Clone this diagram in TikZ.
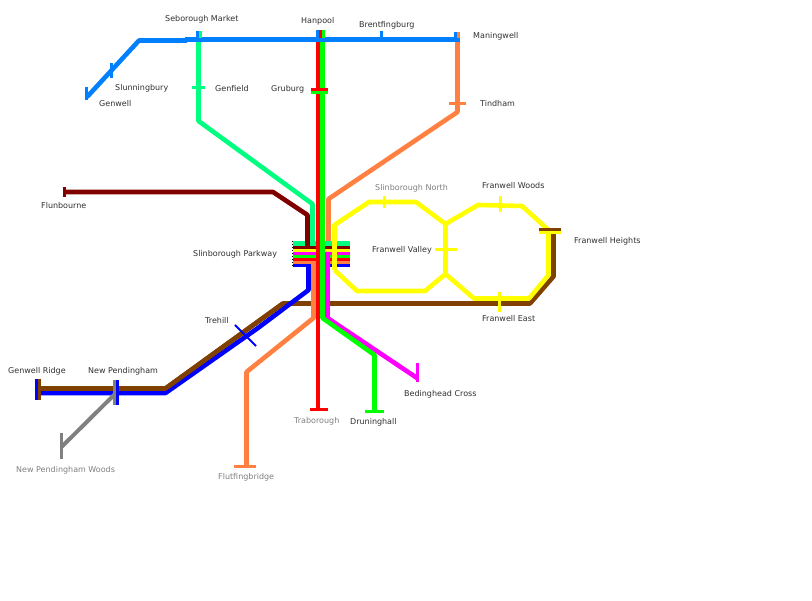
\documentclass[tikz,border=0pt]{standalone}
\usepackage{fontspec}
\setmainfont{DejaVu Sans}
\definecolor{cspring}{HTML}{00FF80}
\definecolor{cmaroon}{HTML}{800000}
\definecolor{cyell}{HTML}{FFFF00}
\definecolor{cmag}{HTML}{FF00FF}
\definecolor{cgreen}{HTML}{00FF00}
\definecolor{cred}{HTML}{FF0000}
\definecolor{corange}{HTML}{FF8040}
\definecolor{cblue}{HTML}{0000FF}
\definecolor{cbrown}{HTML}{804000}
\definecolor{csky}{HTML}{0080FF}
\definecolor{cgray}{HTML}{808080}
\definecolor{ctxt}{HTML}{303030}
\tikzset{
  route/.style={line width=4.6pt,line join=round},
  tick/.style={line width=3pt},
  lab/.style={font=\fontsize{8}{9}\selectfont,text=ctxt,inner sep=0pt},
  glab/.style={lab,text=cgray}
}
\begin{document}
\begin{tikzpicture}[x=1pt,y=-1pt]
\useasboundingbox (0,0) rectangle (812,601);
\fill[white] (0,0) rectangle (812,601);
% routes under the interchange block
\draw[route,cbrown] (553.5,231) -- (553.5,276.5) -- (530,303.5) -- (283,303.5) -- (165.5,388.5) -- (38,388.5);
\draw[route,corange] (457.5,37) -- (457.5,112) -- (328.5,199) -- (328.5,241);
% interchange block
\draw[black,line width=0.8pt,dash pattern=on 1pt off 2pt] (292.2,241) -- (292.2,267);
\draw[black,line width=0.8pt,dash pattern=on 1pt off 2pt] (349.8,241) -- (349.8,267);
\fill[cspring] (292.5,241) rectangle (349.5,246);
\fill[cmaroon] (292.5,246) rectangle (349.5,248.7);
\fill[cyell] (292.5,248.7) rectangle (349.5,251.7);
\fill[cmag] (292.5,251.7) rectangle (349.5,255);
\fill[cgreen] (292.5,255) rectangle (349.5,258);
\fill[cred] (292.5,258) rectangle (349.5,261);
\fill[corange] (292.5,261) rectangle (349.5,263.7);
\fill[cblue] (292.5,263.7) rectangle (349.5,266.7);
% routes
\draw[route,cspring] (198.5,37) -- (198.5,121) -- (312.5,204) -- (312.5,246);
\draw[route,cmaroon] (64,192) -- (273,192) -- (307.5,215) -- (307.5,248);
\draw[route,corange] (313.5,262) -- (313.5,318) -- (246.5,372) -- (246.5,467);
\draw[route,cyell] (334.5,270) -- (334.5,225) -- (369,202) -- (416,202) -- (445.5,224) -- (478,205) -- (522,206) -- (548.5,230) -- (548.5,275) -- (529,298.5) -- (474,298.5) -- (445.5,274) -- (445.5,224);
\draw[route,cyell] (445.5,274) -- (425,291) -- (357,291) -- (334.5,270);
\draw[route,cblue] (38,393) -- (165.5,393) -- (258,328) -- (308.5,290) -- (308.5,265);
\draw[route,cbrown] (283,303.5) -- (165.5,388.5) -- (38,388.5);
\draw[route,cmag] (327.5,252) -- (327.5,318) -- (417,378);
\draw[route,cgreen] (322.5,38) -- (322.5,318) -- (374.5,355) -- (374.5,411);
\draw[route,cred,line width=4pt] (318,38) -- (318,410);
\draw[route,cgray,line width=4pt] (61.5,447) -- (115,394);
\draw[route,csky] (87,97) -- (139,40.5) -- (187,40.5);
\draw[route,csky] (185,39.5) -- (460,39.5);
% ticks
\draw[tick,csky] (197.5,31) -- (197.5,38);
\draw[tick,cspring] (200.5,31) -- (200.5,38);
\draw[tick,csky] (317.5,30) -- (317.5,38);
\draw[tick,cred] (320.5,30) -- (320.5,38);
\draw[tick,cgreen] (323.5,30) -- (323.5,38);
\draw[tick,csky] (381.5,31) -- (381.5,38);
\draw[tick,csky] (455.5,32) -- (455.5,38);
\draw[tick,corange] (458.5,32) -- (458.5,38);
\draw[tick,csky] (86.5,87) -- (86.5,100);
\draw[tick,csky] (111.5,63) -- (111.5,78);
\draw[tick,cspring] (192,87.5) -- (205,87.5);
\draw[tick,cred] (311,89.5) -- (328,89.5);
\draw[tick,cgreen] (311,92.5) -- (328,92.5);
\draw[tick,corange] (449,103.5) -- (466,103.5);
\draw[tick,cmaroon] (64,187) -- (64,197);
\draw[tick,cyell] (384.5,196) -- (384.5,208);
\draw[tick,cyell] (500.5,196) -- (500.5,212);
\draw[tick,cyell] (435,249.5) -- (457,249.5);
\draw[tick,cbrown] (539,229.5) -- (561,229.5);
\draw[tick,cyell] (539,232.5) -- (561,232.5);
\draw[tick,cyell] (499.5,292) -- (499.5,312);
\draw[tick,cblue] (36.5,379) -- (36.5,400);
\draw[tick,cbrown] (39.5,379) -- (39.5,400);
\draw[tick,cgray] (114.5,380) -- (114.5,405);
\draw[tick,cblue] (117.5,380) -- (117.5,405);
\draw[tick,cgray] (61.5,433) -- (61.5,459);
\draw[tick,cblue,line width=2pt] (235,325) -- (256,346);
\draw[tick,corange] (234,466.5) -- (256,466.5);
\draw[tick,cred] (310,409.5) -- (328,409.5);
\draw[tick,cgreen] (365,411.5) -- (384,411.5);
\draw[tick,cmag] (417.5,363) -- (417.5,382);
% labels
\node[lab,anchor=west] (seb) at (165,19) {Seborough Market};
\node[lab,anchor=west] (han) at (301,21) {Hanpool};
\node[lab,anchor=west] (bre) at (359,25) {Brentfingburg};
\node[lab,anchor=west] (man) at (473,36.5) {Maningwell};
\node[lab,anchor=west] (slu) at (115,88) {Slunningbury};
\node[lab,anchor=west] (gen) at (99,103.5) {Genwell};
\node[lab,anchor=west] (gef) at (215,88.5) {Genfield};
\node[lab,anchor=west] (gru) at (271,89.5) {Gruburg};
\node[lab,anchor=west] (tin) at (480,103.5) {Tindham};
\node[lab,anchor=west] (flu) at (41,205.5) {Flunbourne};
\node[glab,anchor=west] (sln) at (375,188) {Slinborough North};
\node[lab,anchor=west] (fwo) at (482,185.5) {Franwell Woods};
\node[lab,anchor=west] (fhe) at (574,241.5) {Franwell Heights};
\node[lab,anchor=west] (fva) at (372,250.5) {Franwell Valley};
\node[lab,anchor=west] (spk) at (193,254.5) {Slinborough Parkway};
\node[lab,anchor=west] (tre) at (205,321) {Trehill};
\node[lab,anchor=west] (fea) at (482,318.5) {Franwell East};
\node[lab,anchor=west] (gri) at (8,371.5) {Genwell Ridge};
\node[lab,anchor=west] (npe) at (88,371) {New Pendingham};
\node[lab,anchor=west] (bed) at (404,394) {Bedinghead Cross};
\node[glab,anchor=west] (tra) at (294,421.5) {Traborough};
\node[lab,anchor=west] (dru) at (350,422.5) {Druninghall};
\node[glab,anchor=west] (npw) at (16,470.5) {New Pendingham Woods};
\node[glab,anchor=west] (fng) at (218,477) {Flutfingbridge};
\end{tikzpicture}
\end{document}
